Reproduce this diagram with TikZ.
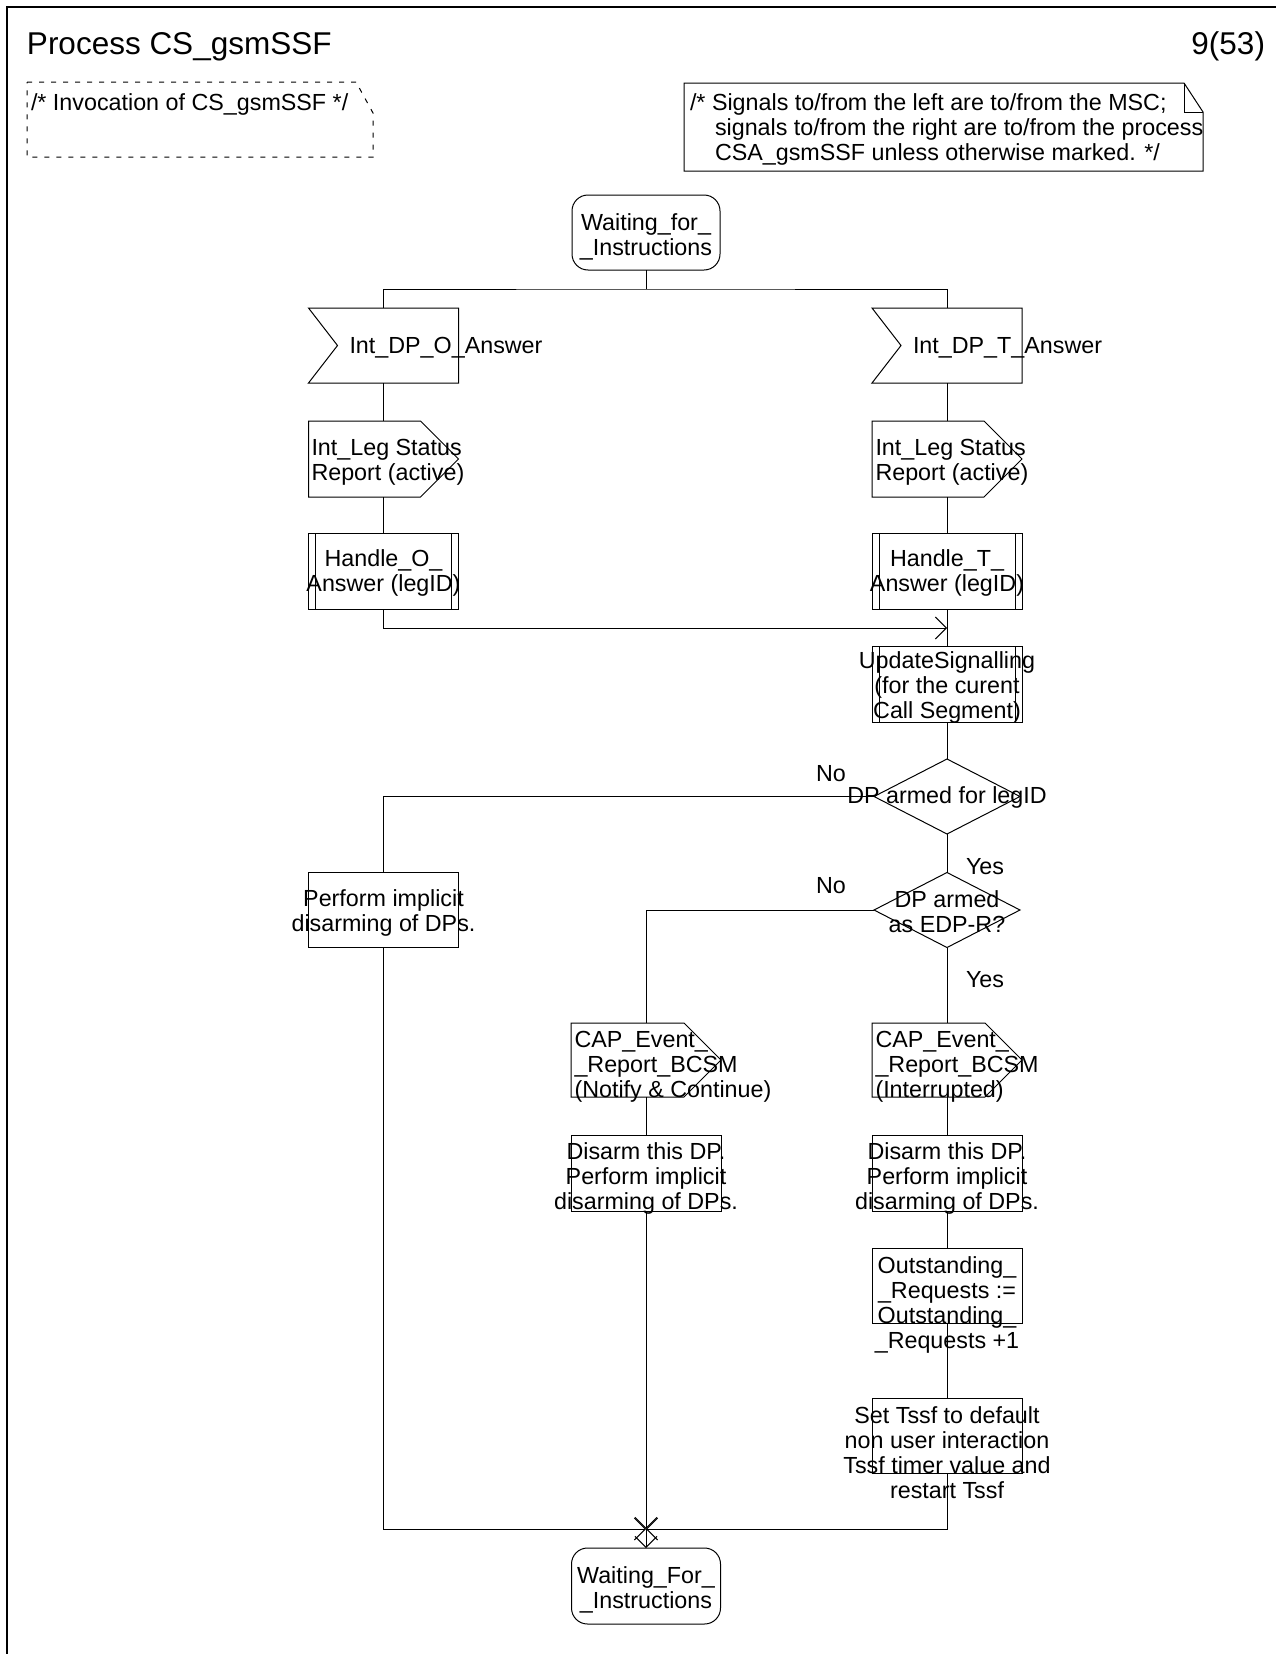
\documentclass[tikz,border=0pt]{standalone}
\usepackage{fontspec}
\setmainfont{Liberation Sans}
\usetikzlibrary{arrows.meta,shapes.geometric,calc}
\begin{document}
\begin{tikzpicture}[x=1pt,y=-1pt,
  ln/.style={line width=1pt, line join=miter},
  shp/.style={draw=none, minimum width=150pt, minimum height=75pt, inner sep=0pt, outer sep=0pt},
  taskbox/.style={shp, draw, ln},
  dia/.style={diamond, draw, ln, minimum width=146pt, minimum height=75pt, inner sep=0pt, outer sep=0pt},
  txt/.style={font=\fontsize{23.3}{25}\selectfont, inner sep=0pt, outer sep=0pt, align=center, anchor=north},
  txl/.style={txt, align=left, anchor=north west},
  lbl/.style={font=\fontsize{23.3}{25}\selectfont, inner sep=0pt, outer sep=0pt, anchor=base west},
  ttl/.style={font=\fontsize{31.5}{34}\selectfont, inner sep=0pt, outer sep=0pt},
  arr/.style={ln, -{Straight Barb[length=11pt,width=22pt,line width=1pt]}}
]
\useasboundingbox (0,0) rectangle (1276,1654);
% frame
\draw[line width=2pt] (7,1654) -- (7,7) -- (1276,7);
% title
\node[ttl, anchor=base west] (title) at (27,55) {Process CS\_gsmSSF};
\node[ttl, anchor=base east] (page) at (1265,55) {9(53)};
% dashed comment
\node[shp, minimum width=346pt, minimum height=75pt] (cmt) at (200,119.5) {};
\draw[ln, dash pattern=on 5pt off 7pt] (cmt.north west) -- ($(cmt.north east)+(-17,0)$) -- ($(cmt.north east)+(0,31)$) -- (cmt.south east) -- (cmt.south west) -- cycle;
\node[lbl] (cmtt) at (31,110) {/* Invocation of CS\_gsmSSF */};
% note
\node[shp, minimum width=519pt, minimum height=88pt] (note) at (943.5,127) {};
\draw[ln] (note.north west) -- ($(note.north east)+(-19,0)$) -- ($(note.north east)+(0,29)$) -- (note.south east) -- (note.south west) -- cycle;
\draw[ln] ($(note.north east)+(-19,0)$) -- ($(note.north east)+(-19,29)$) -- ($(note.north east)+(0,29)$);
\node[txl] (notet) at (690,92.5) {\strut /* Signals to/from the left are to/from the MSC;\\\hspace*{25pt}\strut signals to/from the right are to/from the process\\\hspace*{25pt}\strut CSA\_gsmSSF unless otherwise marked. */};
% start state
\node[shp, minimum width=148pt] (start) at (646,232.5) {};
\draw[ln, rounded corners=16pt] (start.north west) rectangle (start.south east);
\node[txt] (startt) at (646,212.5) {\strut Waiting\_for\_\\\strut\_Instructions};
\coordinate (split) at (646,289);
% inputs
\node[shp] (inO) at (383.5,345.5) {};
\draw[ln] (inO.north west) -- (inO.north east) -- (inO.south east) -- (inO.south west) -- ($(inO.west)+(29,0)$) -- cycle;
\node[lbl] (inOt) at (349.5,353) {Int\_DP\_O\_Answer};
\node[shp] (inT) at (947,345.5) {};
\draw[ln] (inT.north west) -- (inT.north east) -- (inT.south east) -- (inT.south west) -- ($(inT.west)+(29,0)$) -- cycle;
\node[lbl] (inTt) at (913,353) {Int\_DP\_T\_Answer};
% outputs Int_Leg
\node[shp, minimum height=76pt] (outO) at (383.5,459) {};
\draw[ln] (outO.north west) -- ($(outO.north east)+(-38,0)$) -- (outO.east) -- ($(outO.south east)+(-38,0)$) -- (outO.south west) -- cycle;
\node[txl] (outOt) at (311.5,437.5) {\strut Int\_Leg Status\\\strut Report (active)};
\node[shp, minimum height=76pt] (outT) at (947,459) {};
\draw[ln] (outT.north west) -- ($(outT.north east)+(-38,0)$) -- (outT.east) -- ($(outT.south east)+(-38,0)$) -- (outT.south west) -- cycle;
\node[txl] (outTt) at (875.5,437.5) {\strut Int\_Leg Status\\\strut Report (active)};
% procedures Handle
\node[taskbox, minimum height=76pt] (hO) at (383.5,571) {};
\draw[ln] ($(hO.north west)+(7,0)$) -- ($(hO.south west)+(7,0)$);
\draw[ln] ($(hO.north east)+(-7,0)$) -- ($(hO.south east)+(-7,0)$);
\node[txt] (hOt) at (383.5,549) {\strut Handle\_O\_\\\strut Answer (legID)};
\node[taskbox, minimum height=76pt] (hT) at (947,571) {};
\draw[ln] ($(hT.north west)+(7,0)$) -- ($(hT.south west)+(7,0)$);
\draw[ln] ($(hT.north east)+(-7,0)$) -- ($(hT.south east)+(-7,0)$);
\node[txt] (hTt) at (947,549) {\strut Handle\_T\_\\\strut Answer (legID)};
\coordinate (updin) at (947,628);
% UpdateSignalling
\node[taskbox, minimum height=76pt] (upd) at (947,684) {};
\draw[ln] ($(upd.north west)+(7,0)$) -- ($(upd.south west)+(7,0)$);
\draw[ln] ($(upd.north east)+(-7,0)$) -- ($(upd.south east)+(-7,0)$);
\node[txt] (updt) at (947,651) {\strut UpdateSignalling\\\strut (for the curent\\\strut Call Segment)};
% decision 1
\node[dia] (d1) at (947,796.5) {};
\node[lbl, anchor=base] (d1t) at (947,803) {DP armed for legID};
\node[lbl] (no1) at (816,781) {No};
\node[lbl] (yes1) at (966,874) {Yes};
% perform
\node[taskbox] (perf) at (383.5,909.5) {};
\node[txt] (perft) at (383.5,889) {\strut Perform implicit\\\strut disarming of DPs.};
% decision 2
\node[dia] (d2) at (947,910) {};
\node[txt] (d2t) at (947,889.5) {\strut DP armed\\\strut as EDP-R?};
\node[lbl] (no2) at (816,893) {No};
\node[lbl] (yes2) at (966,987) {Yes};
% CAP outputs
\node[shp, minimum height=74pt] (capL) at (646,1060) {};
\draw[ln] (capL.north west) -- ($(capL.north east)+(-37,0)$) -- (capL.east) -- ($(capL.south east)+(-37,0)$) -- (capL.south west) -- cycle;
\node[txl] (capLt) at (574.5,1029.5) {\strut CAP\_Event\_\\\strut\_Report\_BCSM\\\strut(Notify \& Continue)};
\node[shp, minimum height=74pt] (capR) at (947,1060) {};
\draw[ln] (capR.north west) -- ($(capR.north east)+(-37,0)$) -- (capR.east) -- ($(capR.south east)+(-37,0)$) -- (capR.south west) -- cycle;
\node[txl] (capRt) at (875.5,1029.5) {\strut CAP\_Event\_\\\strut\_Report\_BCSM\\\strut(Interrupted)};
% disarm tasks
\node[taskbox, minimum height=76pt] (disL) at (646,1173) {};
\node[txt] (disLt) at (646,1141.5) {\strut Disarm this DP.\\\strut Perform implicit\\\strut disarming of DPs.};
\node[taskbox, minimum height=76pt] (disR) at (947,1173) {};
\node[txt] (disRt) at (947,1141.5) {\strut Disarm this DP.\\\strut Perform implicit\\\strut disarming of DPs.};
% outstanding
\node[taskbox] (outst) at (947,1285.5) {};
\node[txt] (outstt) at (947,1255.5) {\strut Outstanding\_\\\strut\_Requests :=\\\strut Outstanding\_\\\strut\_Requests +1};
% set Tssf
\node[taskbox] (tset) at (947,1435.5) {};
\node[txt] (tsett) at (947,1405.5) {\strut Set Tssf to default\\\strut non user interaction\\\strut Tssf timer value and\\\strut restart Tssf};
% end state
\coordinate (join) at (646,1529);
\node[shp, minimum width=149pt, minimum height=76pt] (endst) at (646,1586) {};
\draw[ln, rounded corners=16pt] (endst.north west) rectangle (endst.south east);
\node[txt] (endstt) at (646,1565.5) {\strut Waiting\_For\_\\\strut\_Instructions};
% connectors
\draw[ln] (start.south) -- (split);
\draw[ln] (inO.north) |- (split) -| (inT.north);
\draw[ln] (inO.south) -- (outO.north);
\draw[ln] (outO.south) -- (hO.north);
\draw[ln] (inT.south) -- (outT.north);
\draw[ln] (outT.south) -- (hT.north);
\draw[ln] (hT.south) -- (upd.north);
\draw[arr] (hO.south) |- (updin);
\draw[ln] (upd.south) -- (d1.north);
\draw[ln] (d1.west) -| (perf.north);
\draw[ln] (d1.south) -- (d2.north);
\draw[ln] (d2.west) -| (capL.north);
\draw[ln] (d2.south) -- (capR.north);
\draw[ln] (capL.south) -- (disL.north);
\draw[ln] (capR.south) -- (disR.north);
\draw[ln] (disR.south) -- (outst.north);
\draw[ln] (outst.south) -- (tset.north);
\draw[arr] (perf.south) |- (join);
\draw[arr] (tset.south) |- (join);
\draw[arr] (disL.south) -- (join);
\draw[arr] (join) -- (endst.north);
\end{tikzpicture}
\end{document}
